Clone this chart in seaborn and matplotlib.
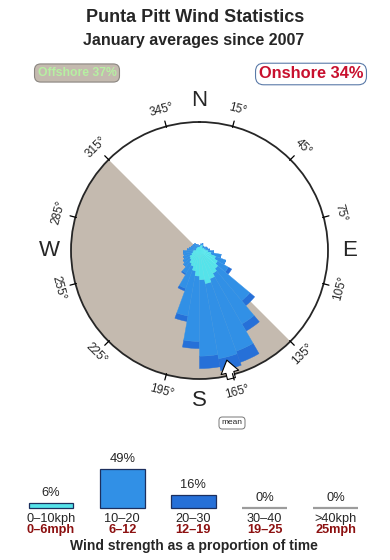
import numpy as np
import pandas as pd
import matplotlib
matplotlib.use("Agg")
import matplotlib.pyplot as plt
from matplotlib.lines import Line2D
import seaborn as sns

# ---------------- data ----------------
dir_start = list(range(0, 360, 10))          # start bearing of each 10 degree sector
pct_0_10 = [0.01, 0.02, 0.03, 0.02, 0.01, 0.01, 0.02, 0.02, 0.03, 0.06, 0.12, 0.26,
            0.38, 0.50, 0.62, 0.80, 1.00, 0.76, 0.58, 0.38, 0.25, 0.20, 0.13, 0.11,
            0.06, 0.04, 0.03, 0.01, 0.01, 0.01, 0.01, 0.01, 0.01, 0.01, 0.01, 0.01]
pct_10_20 = [0.01, 0.02, 0.02, 0.01, 0.02, 0.02, 0.03, 0.04, 0.06, 0.12, 0.31, 0.44,
             0.61, 3.33, 5.78, 9.42, 9.74, 9.17, 6.78, 3.55, 1.20, 0.43, 0.26, 0.21,
             0.20, 0.19, 0.20, 0.12, 0.08, 0.06, 0.05, 0.05, 0.05, 0.03, 0.02, 0.01]
pct_20_30 = [0, 0, 0, 0, 0, 0, 0, 0, 0, 0, 0, 0,
             0.24, 0.79, 1.31, 2.40, 2.52, 2.48, 1.20, 0.69, 0.20, 0.07, 0, 0,
             0, 0, 0, 0, 0, 0, 0, 0, 0, 0, 0, 0]

speed_kph = ["0\u201310kph", "10\u201320", "20\u201330", "30\u201340", ">40kph"]
speed_mph = ["0\u20136mph", "6\u201312", "12\u201319", "19\u201325", "25mph"]
speed_pct = [6, 49, 16, 0, 0]

offshore_pct = 37
onshore_pct = 34
offshore_from, offshore_to = 135, 315
mean_dir = 166
tick_deg = [15, 45, 75, 105, 135, 165, 195, 225, 255, 285, 315, 345]
compass = {"N": 0, "E": 90, "S": 180, "W": 270}

# ---------------- style ----------------
sns.set_style("white")
plt.rcParams["font.family"] = ["Liberation Sans", "DejaVu Sans"]

C_CYAN = "#55e3ea"
C_MED = "#3190e6"
C_DARK = "#2670d8"
C_TAN = "#c4baaf"

W, H = 390, 560
fig = plt.figure(figsize=(W / 100, H / 100), dpi=100)


def fx(px):
    return px / W


def fy(py):
    return 1 - py / H


# ---------------- titles ----------------
fig.text(fx(195), fy(17), "Punta Pitt Wind Statistics", ha="center", va="center",
         fontsize=13, fontweight="bold")
fig.text(fx(194), fy(41), "January averages since 2007", ha="center", va="center",
         fontsize=11.5, fontweight="bold")
fig.text(fx(77), fy(73), f"Offshore {offshore_pct}%", ha="center", va="center",
         fontsize=8.8, fontweight="bold", color="#b6f0a2",
         bbox=dict(boxstyle="round,pad=0.25,rounding_size=0.5", fc=C_TAN, ec="#8a8580", lw=0.8))
fig.text(fx(311), fy(74), f"Onshore {onshore_pct}%", ha="center", va="center",
         fontsize=11.8, fontweight="bold", color="#c8102e",
         bbox=dict(boxstyle="round,pad=0.2,rounding_size=0.5", fc="white", ec="#5a7aa8", lw=0.8))

# ---------------- rose (petal radius ~ sqrt of cumulative share) ----------------
cx, cy, R = 199.5, 250.5, 128.5
ax = fig.add_axes([fx(cx - R), fy(cy + R), 2 * R / W, 2 * R / H], projection="polar")
ax.set_theta_zero_location("N")
ax.set_theta_direction(-1)
rmax = np.sqrt(14.7)
ax.set_rlim(0, rmax)
ax.set_xticks([])
ax.set_yticks([])
ax.grid(False)
ax.spines["polar"].set_linewidth(1.3)

# offshore sector
ax.bar(np.radians(offshore_from), rmax, width=np.radians(offshore_to - offshore_from),
       bottom=0, align="edge", color=C_TAN, edgecolor="none", zorder=1)

theta = np.radians(dir_start)
wid = np.radians(10)
r1 = np.sqrt(np.array(pct_0_10))
r2 = np.sqrt(np.array(pct_0_10) + np.array(pct_10_20))
r3 = np.sqrt(np.array(pct_0_10) + np.array(pct_10_20) + np.array(pct_20_30))
ax.bar(theta, r3 - r2, width=wid, bottom=r2, align="edge", color=C_DARK,
       edgecolor=C_DARK, linewidth=0.3, zorder=2)
ax.bar(theta, r2 - r1, width=wid, bottom=r1, align="edge", color=C_MED,
       edgecolor="#3795e8", linewidth=0.3, zorder=2)
ax.bar(theta, r1, width=wid, bottom=0, align="edge", color=C_CYAN,
       edgecolor="#5ce8ee", linewidth=0.3, zorder=2)


def pol(b, r):
    return fx(cx + r * np.sin(np.radians(b))), fy(cy - r * np.cos(np.radians(b)))


# mean arrow
tip = pol(mean_dir, 113)
tail = pol(mean_dir, 132)
ax.annotate("", xy=tip, xytext=tail, xycoords="figure fraction", textcoords="figure fraction",
            arrowprops=dict(arrowstyle="simple,head_length=0.7,head_width=1.0,tail_width=0.45",
                            fc="white", ec="black", lw=0.8, mutation_scale=13,
                            shrinkA=0, shrinkB=0), zorder=5, annotation_clip=False)

# ticks and degree labels
for b in tick_deg:
    x0, y0 = pol(b, 127.5)
    x1, y1 = pol(b, 134)
    fig.add_artist(Line2D([x0, x1], [y0, y1], color="black", lw=0.9,
                          transform=fig.transFigure))
    rot = (-b + 90) % 180 - 90
    lx, ly = pol(b, 146)
    fig.text(lx, ly, f"{b}\u00b0", ha="center", va="center", rotation=rot,
             rotation_mode="anchor", fontsize=8.5)

for lab, b in compass.items():
    lx, ly = pol(b, 150)
    fig.text(lx, ly, lab, ha="center", va="center", fontsize=16)

fig.text(fx(232), fy(423), "mean", ha="center", va="center", fontsize=6,
         bbox=dict(boxstyle="round,pad=0.3,rounding_size=0.4", fc="white", ec="#777777", lw=0.7))

# ---------------- speed bars ----------------
base_py = 507.7
px_per_pct = 38.7 / 49
ymax = 60
axb = fig.add_axes([fx(15.4), fy(base_py), 356 / W, ymax * px_per_pct / H])
df = pd.DataFrame({"speed": speed_kph, "pct": speed_pct})
sns.barplot(data=df, x="speed", y="pct", hue="speed",
            palette=[C_CYAN, C_MED, C_DARK, "#9c9c9c", "#9c9c9c"],
            width=0.63, ax=axb, legend=False, saturation=1)
axb.set_xlim(-0.5, 4.5)
axb.set_ylim(0, ymax)
axb.axis("off")
for i, cont in enumerate(axb.containers):
    for p in cont.patches:
        if speed_pct[i] == 0:
            p.set_edgecolor("#9c9c9c")
            p.set_linewidth(1.6)
        else:
            p.set_edgecolor("#1c2f5e")
            p.set_linewidth(0.9)
        p.set_clip_on(False)
    axb.bar_label(cont, labels=[f"{speed_pct[i]}%"], padding=3, fontsize=9.3)

for i, (k, m) in enumerate(zip(speed_kph, speed_mph)):
    xpx = 15.4 + (i + 0.5) * 356 / 5
    fig.text(fx(xpx), fy(519), k, ha="center", va="center", fontsize=9.2)
    fig.text(fx(xpx), fy(530), m, ha="center", va="center", fontsize=9.2,
             fontweight="bold", color="#8c1010")

fig.text(fx(194), fy(546), "Wind strength as a proportion of time", ha="center",
         va="center", fontsize=10, fontweight="bold")

fig.savefig("out.png", dpi=100)
